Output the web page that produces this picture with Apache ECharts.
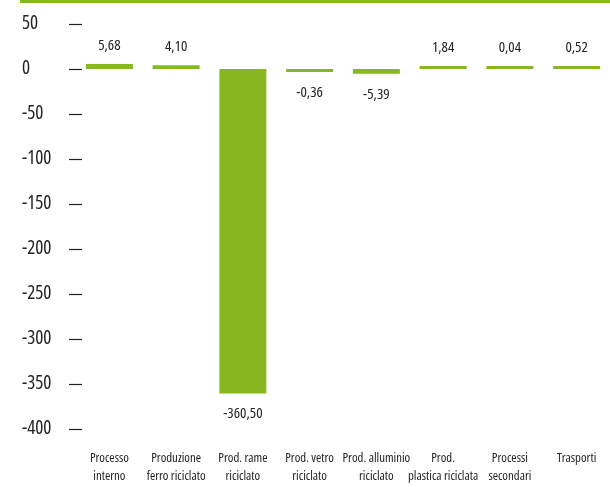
<!DOCTYPE html>
<html>
<head>
<meta charset="utf-8">
<script src="https://cdn.jsdelivr.net/npm/echarts@6/dist/echarts.min.js"></script>
<style>
  html, body { margin: 0; padding: 0; background: #ffffff; }
  #chart { width: 610px; height: 487px; }
</style>
</head>
<body>
<div id="chart"></div>
<script>
// Contributions by process stage (negative = avoided impact)
const categories = [
  'Processo\ninterno',
  'Produzione\nferro riciclato',
  'Prod. rame\nriciclato',
  'Prod. vetro\nriciclato',
  'Prod. alluminio\nriciclato',
  'Prod.\nplastica riciclata',
  'Processi\nsecondari',
  'Trasporti'
];
const values = [5.68, 4.10, -360.50, -0.36, -5.39, 1.84, 0.04, 0.52];
const yTicks = [50, 0, -50, -100, -150, -200, -250, -300, -350, -400];

const GREEN = '#87b81f';
const TEXT = '#222222';
const FONT = '"Open Sans", "Roboto", sans-serif';
const NARROW = 'normal condensed';   // uses the width axis of the variable font

const chart = echarts.init(document.getElementById('chart'), null, { renderer: 'canvas' });

const fmt = v => v.toFixed(2).replace('.', ',');

chart.setOption({
  animation: false,
  backgroundColor: '#ffffff',
  graphic: [{
    type: 'rect',
    shape: { x: 20, y: 0, width: 590, height: 3 },
    style: { fill: GREEN }
  }],
  grid: { left: 76, right: -9, top: 24, bottom: 58, containLabel: false },
  xAxis: {
    type: 'category',
    data: categories,
    axisLine: { show: false },
    axisTick: { show: false },
    axisLabel: {
      interval: 0,
      margin: 20,
      color: TEXT,
      fontFamily: FONT,
      fontWeight: NARROW,
      fontSize: 12.8,
      lineHeight: 18,
      verticalAlign: 'top'
    }
  },
  yAxis: {
    type: 'value',
    min: -400,
    max: 50,
    interval: 50,
    offset: -6,
    axisLine: { show: false },
    splitLine: { show: false },
    axisTick: { show: true, length: 13, lineStyle: { color: TEXT, width: 1.2 } },
    axisLabel: {
      align: 'left',
      margin: 60,
      color: TEXT,
      fontFamily: FONT,
      fontWeight: NARROW,
      fontSize: 19,
      formatter: v => yTicks.includes(v) ? String(v) : ''
    }
  },
  series: [{
    type: 'bar',
    barWidth: 47,
    barMinHeight: 3,
    itemStyle: { color: GREEN },
    label: {
      show: true,
      color: TEXT,
      fontFamily: FONT,
      fontWeight: NARROW,
      fontSize: 15,
      formatter: p => fmt(p.value)
    },
    // labels sit above positive bars and beneath negative ones
    data: values.map(v => ({
      value: v,
      label: { position: v < 0 ? 'bottom' : 'top', distance: v < 0 ? 13 : 11 }
    }))
  }]
});
</script>
</body>
</html>
